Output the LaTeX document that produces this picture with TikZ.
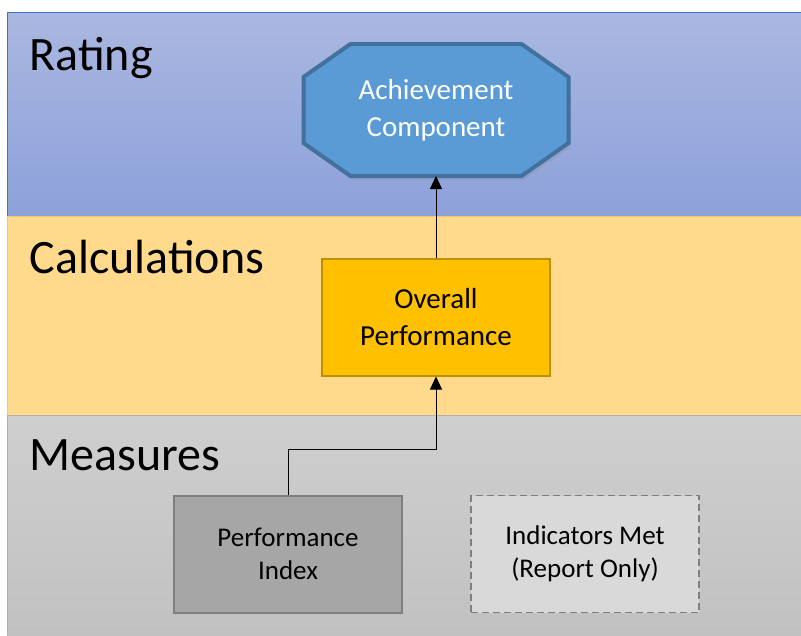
\documentclass[tikz,border=0pt]{standalone}
\usepackage{fontspec}
\setmainfont{Carlito}
\usetikzlibrary{arrows.meta,shadows}

\definecolor{ratingtop}{RGB}{170,183,224}
\definecolor{ratingbot}{RGB}{141,161,218}
\definecolor{ratingline}{RGB}{68,114,196}
\definecolor{calcfill}{RGB}{255,217,140}
\definecolor{calcline}{RGB}{240,200,110}
\definecolor{meastop}{RGB}{207,207,207}
\definecolor{measbot}{RGB}{193,193,193}
\definecolor{measline}{RGB}{175,175,175}
\definecolor{achfill}{RGB}{91,155,213}
\definecolor{achline}{RGB}{65,113,156}
\definecolor{overfill}{RGB}{255,192,0}
\definecolor{overline}{RGB}{191,144,0}
\definecolor{perffill}{RGB}{166,166,166}
\definecolor{indfill}{RGB}{217,217,217}
\definecolor{boxline}{RGB}{127,127,127}

\tikzset{
    level/.style={anchor=base west, font=\fontsize{48}{56}\selectfont},
    box/.style={line width=2pt, align=center, minimum width=228pt,
        minimum height=117pt, font=\fontsize{29}{37}\selectfont},
    smallbox/.style={box, font=\fontsize{27}{33}\selectfont},
    link/.style={-{Triangle[length=13pt,width=12pt]}, line width=1pt}
}

\begin{document}
\begin{tikzpicture}[x=1pt, y=-1pt]
    \useasboundingbox (0,0) rectangle (801,635);
    % bands
    \shade[top color=ratingtop, bottom color=ratingbot] (7,12) rectangle (801,216);
    \fill[calcfill] (7,216) rectangle (801,415);
    \shade[top color=meastop, bottom color=measbot] (7,415) rectangle (801,635);
    \draw[ratingline, line width=1pt] (7,216) -- (7,12) -- (801,12);
    \draw[calcline, line width=1pt] (7,415) -- (7,216) -- (801,216);
    \draw[measline, line width=1pt] (7,635) -- (7,415) -- (801,415);
    % level names
    \node[level] (rating) at (26,70) {Rating};
    \node[level] (calc) at (26,273) {Calculations};
    \node[level] (meas) at (26,470) {Measures};
    % boxes
    \node[smallbox, draw=boxline, fill=perffill] (perf) at (288,554) {Performance\\Index};
    \node[smallbox, draw=boxline, fill=indfill, line width=1.5pt, dash pattern=on 7pt off 4pt]
        (ind) at (585,554) {Indicators Met\\(Report Only)};
    \node[box, draw=overline, fill=overfill] (over) at (436,317) {Overall\\Performance};
    \node[box, minimum width=263pt, minimum height=130pt] (ach) at (436,110) {};
    \filldraw[fill=achfill, draw=achline, line width=4pt, line join=miter,
        drop shadow={shadow xshift=2pt, shadow yshift=-4pt, opacity=0.2}]
        ([xshift=47pt]ach.north west) -- ([xshift=-47pt]ach.north east)
        -- ([yshift=-33pt]ach.north east) -- ([yshift=33pt]ach.south east)
        -- ([xshift=-47pt]ach.south east) -- ([xshift=47pt]ach.south west)
        -- ([yshift=33pt]ach.south west) -- ([yshift=-33pt]ach.north west) -- cycle;
    \node[box, text=white] at (ach.center) {Achievement\\Component};
    % links
    \draw[link] (perf.north) -- ++(0,-45) -| (over.south);
    \draw[link] (over.north) -- (ach.south);
\end{tikzpicture}
\end{document}
